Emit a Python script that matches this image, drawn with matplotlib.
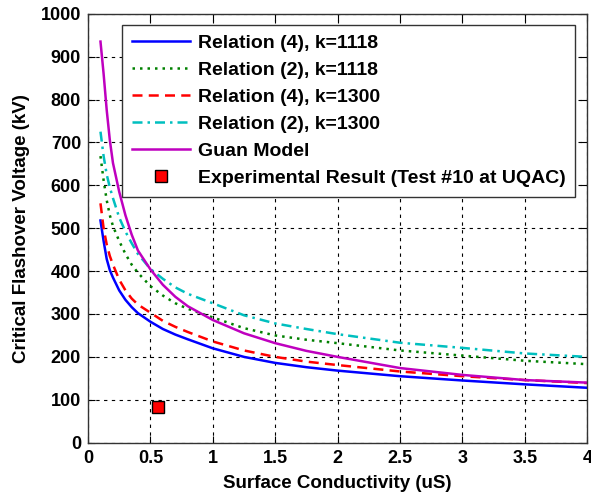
import matplotlib
matplotlib.use("Agg")
import matplotlib.pyplot as plt

plt.rcParams['font.family'] = ['Liberation Sans', 'DejaVu Sans']
plt.rcParams['font.weight'] = 'bold'

x = [0.1, 0.125, 0.15, 0.175, 0.2, 0.25, 0.3, 0.35, 0.4, 0.5, 0.6, 0.7, 0.8,
     1.0, 1.25, 1.5, 1.75, 2.0, 2.5, 3.0, 3.5, 4.0]
rel4_k1118 = [518, 470, 428, 402, 385, 355, 333, 316, 302, 282, 265, 252, 241,
              220, 200, 186, 176, 168, 155, 145, 136, 128]
rel2_k1118 = [668, 612, 565, 530, 505, 470, 440, 415, 396, 365, 343, 325, 312,
              292, 267, 250, 240, 232, 215, 203, 191, 183]
rel4_k1300 = [558, 500, 462, 435, 415, 380, 355, 336, 322, 303, 284, 270, 258,
              236, 215, 200, 189, 181, 166, 155, 146, 139]
rel2_k1300 = [725, 668, 625, 595, 570, 525, 492, 465, 440, 405, 382, 362, 347,
              325, 297, 278, 265, 253, 233, 221, 208, 200]
guan = [935, 860, 775, 705, 652, 585, 530, 485, 448, 404, 368, 340, 318,
        286, 255, 232, 214, 200, 174, 158, 146, 140]
exp_x = [0.56]
exp_y = [84]

labels = ['Relation (4), k=1118', 'Relation (2), k=1118', 'Relation (4), k=1300',
          'Relation (2), k=1300', 'Guan Model', 'Experimental Result (Test #10 at UQAC)']
xticks = [0, 0.5, 1, 1.5, 2, 2.5, 3, 3.5, 4]
yticks = [0, 100, 200, 300, 400, 500, 600, 700, 800, 900, 1000]

fig = plt.figure(figsize=(5.91, 5.00), dpi=100)
ax = fig.add_axes([88/591, 1-442.7/500, 499.3/591, 429/500])

lw = 1.8
ax.plot(x, rel4_k1118, color='#0000ff', lw=lw, ls='-', label=labels[0])
ax.plot(x, rel2_k1118, color='#008000', lw=lw, ls=(0, (1, 2)), label=labels[1])
ax.plot(x, rel4_k1300, color='#ff0000', lw=lw, ls=(0, (4, 2.5)), label=labels[2])
ax.plot(x, rel2_k1300, color='#00bfbf', lw=lw, ls=(0, (4, 2, 1, 2)), label=labels[3])
ax.plot(x, guan, color='#bf00bf', lw=lw, ls='-', label=labels[4])
ax.plot(exp_x, exp_y, ls='none', marker='s', markersize=9, markerfacecolor='#ff0000',
        markeredgecolor='black', markeredgewidth=1.0, label=labels[5])

ax.set_xlim(0, 4)
ax.set_ylim(0, 1000)
ax.set_xticks(xticks)
ax.set_xticklabels([f'{v:g}' for v in xticks])
ax.set_yticks(yticks)
ax.tick_params(direction='in', top=True, right=True, length=5, labelsize=13, width=0.8,
               pad=5)
for lab in ax.get_xticklabels() + ax.get_yticklabels():
    lab.set_fontweight('bold')
ax.grid(True, color='black', ls=(0, (3, 4)), lw=0.8)
for s in ax.spines.values():
    s.set_linewidth(1.0)
    s.set_color('#333333')

ax.set_xlabel('Surface Conductivity (uS)', fontsize=13.5, fontweight='bold', labelpad=6)
ax.set_ylabel('Critical Flashover Voltage (kV)', fontsize=13.5, fontweight='bold', labelpad=8)

leg = ax.legend(loc='upper right', bbox_to_anchor=(0.976, 0.974), borderaxespad=0,
                prop={'weight': 'bold', 'size': 14}, fancybox=False,
                framealpha=1, edgecolor='#333333', handlelength=3.0, handletextpad=0.4,
                labelspacing=0.48, borderpad=0.5)
leg.get_frame().set_linewidth(1.0)

fig.savefig('out.png', dpi=100)
